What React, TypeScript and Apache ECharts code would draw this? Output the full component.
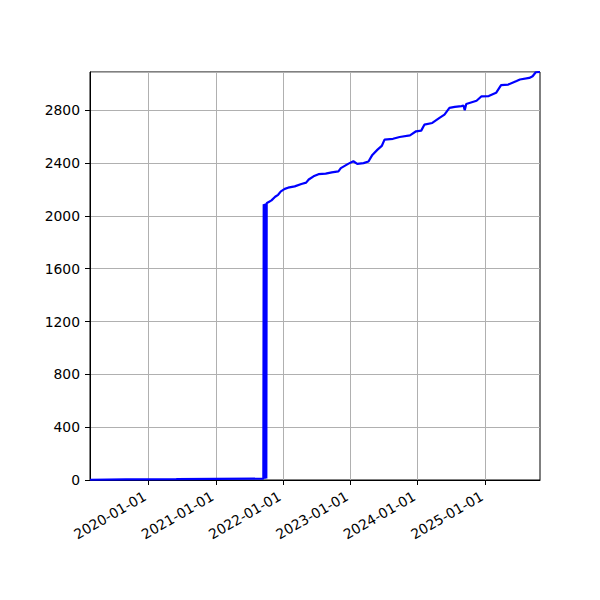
import { useEffect, useRef } from 'react'
import * as echarts from 'echarts'

// near-zero stretch, then the jump (drawn back and forth, hence the thick bar), then the climb
const dates = [
  '2019-02-19', '2019-09-01', '2020-06-01', '2021-01-01', '2021-09-16',
  '2021-09-18', '2021-09-20', '2021-09-22', '2021-09-24', '2021-09-26',
  '2021-09-28', '2021-09-30', '2021-10-02', '2021-10-04',
  '2021-10-13', '2021-10-30', '2021-11-19', '2021-12-05', '2021-12-20',
  '2022-01-10', '2022-01-28', '2022-03-05', '2022-04-10', '2022-05-06',
  '2022-05-20', '2022-06-15', '2022-07-12', '2022-08-20', '2022-09-22',
  '2022-10-28', '2022-11-10', '2022-12-22', '2023-01-17',
  '2023-02-07', '2023-03-13', '2023-04-09', '2023-04-30', '2023-05-28',
  '2023-06-20', '2023-07-05', '2023-08-20', '2023-09-25', '2023-11-20',
  '2023-12-23', '2024-01-20', '2024-02-06', '2024-03-20', '2024-04-28',
  '2024-05-25', '2024-06-21', '2024-07-20', '2024-08-25', '2024-09-05',
  '2024-09-12', '2024-09-20', '2024-11-15', '2024-12-12', '2025-01-20',
  '2025-03-01', '2025-03-28', '2025-05-06', '2025-06-20', '2025-07-08',
  '2025-08-28', '2025-09-15', '2025-10-02', '2025-10-25',
]
const values = [
  2, 4, 6, 8, 10,
  2088, 10, 2090, 10, 2092,
  12, 2094, 12, 2096,
  2104, 2118, 2145, 2160, 2186,
  2205, 2214, 2224, 2242, 2252,
  2276, 2300, 2316, 2320, 2330,
  2338, 2362, 2396, 2414,
  2394, 2400, 2412, 2462, 2502,
  2530, 2578, 2584, 2598, 2610,
  2641, 2646, 2691, 2704, 2742,
  2767, 2818, 2826, 2832, 2836,
  2800, 2848, 2872, 2906, 2908,
  2932, 2990, 2995, 3022, 3033,
  3045, 3058, 3088, 3090,
]
const xTicks = ['2020-01-01', '2021-01-01', '2022-01-01', '2023-01-01', '2024-01-01', '2025-01-01']
const X_MIN = '2019-02-19'
const X_MAX = '2025-10-25'
const Y_MAX = 3090

const FONT = 'DejaVu Sans'

export default function App() {
  const ref = useRef<HTMLDivElement>(null)

  useEffect(() => {
    document.body.style.margin = '0'
    if (!ref.current) {
      return
    }
    const chart = echarts.init(ref.current, undefined, { renderer: 'svg' })
    const tickValues = xTicks.map((d) => Date.parse(d))

    chart.setOption({
      animation: false,
      grid: {
        left: 90, right: 60, top: 72, bottom: 120,
        show: true, borderColor: '#000', borderWidth: 1,
      },
      xAxis: {
        type: 'value',
        min: Date.parse(X_MIN),
        max: Date.parse(X_MAX),
        axisLine: { lineStyle: { color: '#000', width: 1 } },
        axisTick: { customValues: tickValues, length: 5, lineStyle: { color: '#000' } },
        axisLabel: {
          customValues: tickValues,
          rotate: 30,
          margin: 13,
          padding: [0, 4, 0, 0],
          color: '#000',
          fontFamily: FONT,
          fontSize: 13.9,
          formatter: (v: number) => new Date(v).toISOString().slice(0, 10),
        },
        splitLine: { show: true, lineStyle: { color: '#b0b0b0', width: 1 } },
      },
      yAxis: {
        type: 'value',
        min: 0,
        max: Y_MAX,
        interval: 400,
        axisLine: { show: true, lineStyle: { color: '#000', width: 1 } },
        axisTick: { show: true, length: 5, lineStyle: { color: '#000' } },
        axisLabel: {
          showMaxLabel: false,
          margin: 10,
          color: '#000',
          fontFamily: FONT,
          fontSize: 13.9,
          formatter: (v: number) => String(v),
        },
        splitLine: { show: true, lineStyle: { color: '#b0b0b0', width: 1 } },
      },
      series: [
        {
          type: 'line',
          showSymbol: false,
          clip: true,
          lineStyle: { color: '#0000ff', width: 2.2 },
          data: dates.map((d, i) => [Date.parse(d), values[i]]),
        },
      ],
    })

    return () => {
      chart.dispose()
    }
  }, [])

  return <div ref={ref} style={{ width: 600, height: 600 }} />
}
